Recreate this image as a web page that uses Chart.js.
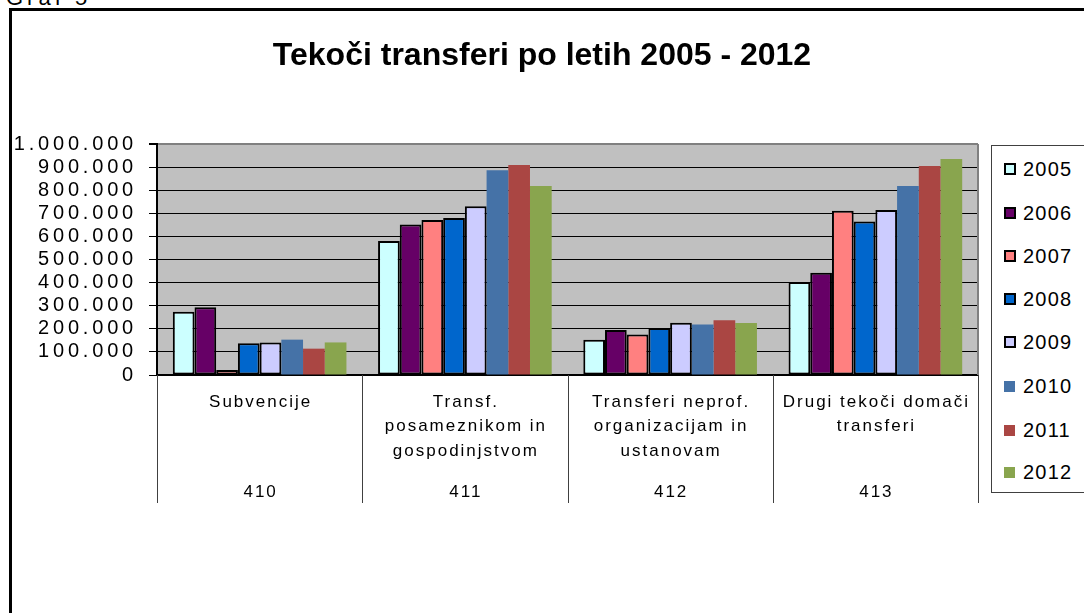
<!DOCTYPE html>
<html>
<head>
<meta charset="utf-8">
<script src="https://cdn.jsdelivr.net/npm/chart.js@4.4.1/dist/chart.umd.min.js"></script>
<style>
  html, body { margin: 0; padding: 0; background: #fff; overflow: hidden; }
  #wrap { position: relative; width: 1084px; height: 613px; overflow: hidden; font-family: "Liberation Sans", Arial, sans-serif; }
  #frame { position: absolute; left: 9px; top: 8px; width: 1200px; height: 700px; border-left: 3px solid #000; border-top: 3px solid #000; }
  #caption { position: absolute; left: 6px; top: -13px; font-size: 22px; line-height: 22px; letter-spacing: 4px; color: #000; }
  #chart { position: absolute; left: 0; top: 0; }
  #legend { position: absolute; left: 991px; top: 145px; width: 110px; height: 346px; border: 1.5px solid #404040; border-right: none; background: #fff; }
  .item { position: absolute; left: 0; height: 24px; font-size: 20px; line-height: 24px; letter-spacing: 1.2px; color: #000; }
  .item span.box { position: absolute; left: 12px; top: 6px; width: 12px; height: 12px; box-sizing: border-box; }
  .item span.txt { position: absolute; left: 31px; top: 0; }
</style>
</head>
<body>
<div id="wrap">
  <div id="caption">Graf 5</div>
  <div id="frame"></div>
  <canvas id="chart" width="1084" height="613"></canvas>
  <div id="legend"></div>
</div>
<script>
// categories (lines of each label) and account codes
var categories = [
    ['Subvencije'],
    ['Transf.', 'posameznikom in', 'gospodinjstvom'],
    ['Transferi neprof.', 'organizacijam in', 'ustanovam'],
    ['Drugi tekoči domači', 'transferi']
];
var codes = ['410', '411', '412', '413'];
var years = ['2005', '2006', '2007', '2008', '2009', '2010', '2011', '2012'];

// values per year, one per category
var v2005 = [274000, 580000, 153000, 403000];
var v2006 = [293000, 652000, 195000, 443000];
var v2007 = [22000, 671000, 175000, 711000];
var v2008 = [137000, 680000, 203000, 665000];
var v2009 = [141000, 730000, 226000, 714000];
var v2010 = [153000, 886000, 219000, 818000];
var v2011 = [114000, 909000, 237000, 905000];
var v2012 = [141000, 818000, 225000, 935000];
var values = [v2005, v2006, v2007, v2008, v2009, v2010, v2011, v2012];

var yTicks = [0, 100000, 200000, 300000, 400000, 500000, 600000, 700000, 800000, 900000, 1000000];

var barColors = ['#CCFFFF', '#660066', '#FF8080', '#0066CC', '#CCCCFF', '#4572A7', '#AA4643', '#89A54E'];
var outlined = [true, true, true, true, true, false, false, false];

function fmt(v) {
    return String(v).replace(/\B(?=(\d{3})+(?!\d))/g, '.');
}

var datasets = years.map(function (y, i) {
    return {
        label: y,
        data: values[i],
        backgroundColor: barColors[i],
        borderColor: '#000',
        borderWidth: outlined[i] ? 2 : 0,
        borderSkipped: false,
        categoryPercentage: 0.846,
        barPercentage: 1.0
    };
});

var FONT = '"Liberation Sans", Arial, sans-serif';

// grey plot background, spacing for y labels, category labels under the axis
var decor = {
    id: 'decor',
    beforeDraw: function (chart) {
        var a = chart.chartArea, c = chart.ctx;
        c.letterSpacing = '0px';
        c.save();
        c.fillStyle = '#C0C0C0';
        c.fillRect(a.left, a.top, a.right - a.left, a.bottom - a.top);
        c.restore();
    },
    afterDatasetsDraw: function (chart) {
        chart.ctx.letterSpacing = '3.8px';
    },
    afterDraw: function (chart) {
        var a = chart.chartArea, c = chart.ctx, x = chart.scales.x;
        c.save();
        c.letterSpacing = '0px';
        // right border of plot
        c.strokeStyle = '#808080';
        c.lineWidth = 2;
        c.beginPath();
        c.moveTo(a.right, a.top);
        c.lineTo(a.right, a.bottom);
        c.stroke();
        // separators between categories
        var step = (x.right - x.left) / categories.length;
        c.strokeStyle = '#404040';
        c.lineWidth = 1;
        for (var i = 0; i <= categories.length; i++) {
            var px = Math.round(x.left + i * step) + 0.5;
            c.beginPath();
            c.moveTo(px, a.bottom);
            c.lineTo(px, a.bottom + 128);
            c.stroke();
        }
        // labels
        c.fillStyle = '#000';
        c.font = '17px ' + FONT;
        c.letterSpacing = '2px';
        c.textAlign = 'center';
        c.textBaseline = 'middle';
        categories.forEach(function (lines, i) {
            var cx = x.getPixelForValue(i) + 1;
            lines.forEach(function (t, j) {
                c.fillText(t, cx, a.bottom + 27 + j * 24.5);
            });
            c.fillText(codes[i], cx, a.bottom + 117);
        });
        c.restore();
        c.letterSpacing = '0px';
    }
};

new Chart(document.getElementById('chart'), {
    type: 'bar',
    data: { labels: codes, datasets: datasets },
    plugins: [decor],
    options: {
        responsive: false,
        animation: false,
        layout: { padding: { left: 0, right: 0, top: 20, bottom: 0 } },
        plugins: {
            legend: { display: false },
            tooltip: { enabled: false },
            title: {
                display: true,
                text: 'Tekoči transferi po letih 2005 - 2012',
                color: '#000',
                font: { family: FONT, size: 32, weight: 'bold' },
                padding: { top: 17, bottom: 68.6 }
            }
        },
        scales: {
            x: {
                ticks: { display: false },
                grid: { display: false },
                border: { display: true, color: '#000', width: 1.5 },
                afterFit: function (s) { s.height = 238; }
            },
            y: {
                min: 0,
                max: 1000000,
                afterBuildTicks: function (s) {
                    s.ticks = yTicks.map(function (v) { return { value: v }; });
                },
                ticks: {
                    z: 1,
                    autoSkip: false,
                    color: '#000',
                    padding: 12,
                    font: { family: FONT, size: 20 },
                    callback: function (v) { return fmt(v); }
                },
                grid: {
                    color: function (ctx) { return ctx.tick && ctx.tick.value === 1000000 ? '#808080' : '#000'; },
                    lineWidth: function (ctx) { return ctx.tick && ctx.tick.value === 1000000 ? 2 : 1; },
                    tickLength: 8,
                    tickColor: '#000'
                },
                border: { display: true, color: '#000', width: 2 },
                afterFit: function (s) { s.width = 157; }
            },
            // empty axis that keeps room on the right for the legend
            side: {
                type: 'linear',
                position: 'right',
                display: true,
                ticks: { display: false },
                grid: { display: false },
                border: { display: false },
                afterFit: function (s) { s.width = 106; }
            }
        }
    }
});

// legend built from the same arrays
var legend = document.getElementById('legend');
var itemY = [11, 55, 98, 141, 184, 228, 272, 314];
years.forEach(function (y, i) {
    var d = document.createElement('div');
    d.className = 'item';
    d.style.top = itemY[i] + 'px';
    var b = document.createElement('span');
    b.className = 'box';
    b.style.background = barColors[i];
    if (outlined[i]) b.style.border = '2px solid #000';
    else { b.style.width = '11px'; b.style.height = '11px'; b.style.top = '7px'; }
    var t = document.createElement('span');
    t.className = 'txt';
    t.textContent = y;
    d.appendChild(b);
    d.appendChild(t);
    legend.appendChild(d);
});
</script>
</body>
</html>
